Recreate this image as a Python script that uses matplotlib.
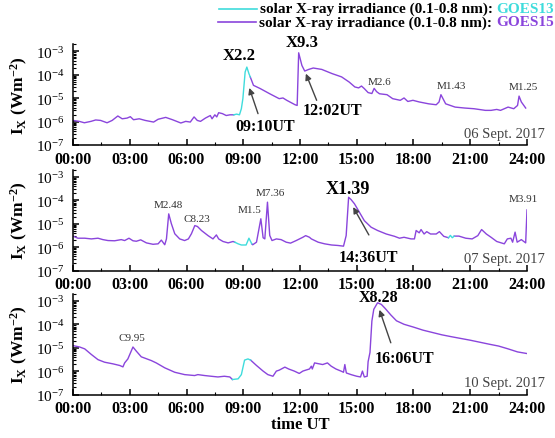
import numpy as np
import matplotlib
matplotlib.use("Agg")
import matplotlib.pyplot as plt
from matplotlib.ticker import FixedLocator, LogLocator, LogFormatterMathtext, NullFormatter
from matplotlib.lines import Line2D

plt.rcParams['font.family'] = ['Liberation Serif', 'DejaVu Serif']
plt.rcParams['mathtext.fontset'] = 'custom'
plt.rcParams['mathtext.rm'] = 'Liberation Serif:bold'
plt.rcParams['mathtext.bf'] = 'Liberation Serif:bold'
plt.rcParams['mathtext.it'] = 'Liberation Serif:italic:bold'
plt.rcParams['mathtext.default'] = 'bf'

nan = np.nan
# ---------------- data (hours UT, log10 irradiance W m^-2) ----------------
# 06 Sept 2017
d06_g15_h = [0.0, 0.33, 0.6, 0.95, 1.2, 1.46, 1.8, 2.07, 2.37, 2.6, 2.86, 3.03, 3.2, 3.5, 3.82,
             4.26, 4.5, 4.9, 5.26, 5.7, 5.96, 6.2, 6.4, 6.57, 6.74, 7.0, 7.26, 7.35, 7.5, 7.6,
             7.7, 7.9, 8.1, 8.3, 8.5, nan,
             9.37, 9.54, 9.9, 10.4, 10.9, 11.1, 11.3, 11.74, 11.85, 11.93, 12.1, 12.25, 12.46,
             12.7, 13.15, 13.7, 14.2, 14.6, 14.9, 15.1, 15.25, 15.4, 15.6, 15.8, 15.92, 16.05,
             16.2, 16.6, 16.9, 17.3, 17.5, 17.7, 17.97, 18.3, 18.8, 19.2, 19.35, 19.45, 19.7,
             20.2, 20.7, 21.2, 21.8, 22.1, 22.4, 22.6, 23.0, 23.3, 23.5, 23.58, 23.7, 23.93]
d06_g15_v = [-5.95, -5.99, -6.05, -5.99, -5.93, -5.95, -6.05, -5.95, -5.76, -5.88, -5.85, -5.79,
             -5.92, -5.88, -5.95, -6.02, -5.90, -5.82, -5.92, -6.06, -5.99, -6.02, -5.80, -5.95,
             -5.99, -5.85, -5.74, -5.88, -5.71, -5.80, -5.62, -5.66, -5.74, -5.71, -5.71, nan,
             -4.09, -4.45, -4.59, -4.81, -5.02, -4.99, -5.09, -5.28, -5.31, -3.06, -3.60, -3.84,
             -3.77, -3.71, -3.77, -3.95, -4.09, -4.31, -4.52, -4.56, -4.48, -4.59, -4.76, -4.80,
             -4.58, -4.72, -4.81, -4.85, -5.02, -5.09, -4.99, -5.14, -5.09, -5.16, -5.24, -5.28,
             -5.16, -4.85, -5.24, -5.38, -5.42, -5.45, -5.52, -5.52, -5.48, -5.52, -5.38, -5.45,
             -5.31, -4.91, -5.16, -5.42]
d06_g13_h = [8.5, 8.65, 8.8, 8.9, 8.98, 9.1, 9.19, 9.3, 9.37]
d06_g13_v = [-5.71, -5.68, -5.71, -5.45, -5.02, -3.88, -3.67, -3.95, -4.09]

# 07 Sept 2017
d07_g15_h = [0.0, 0.26, 0.62, 0.97, 1.32, 1.58, 1.85, 2.2, 2.55, 2.73, 2.96, 3.17, 3.35, 3.58,
             3.88, 4.23, 4.5, 4.67, 4.85, 4.94, 5.06, 5.2, 5.38, 5.64, 5.9, 6.1, 6.26, 6.44,
             6.58, 6.79, 7.14, 7.4, 7.58, 7.7, 7.93, 8.2, 8.46, 8.55, nan,
             9.45, 9.5, 9.7, 9.93, 10.05, 10.14, 10.28, 10.4, 10.52, 10.75, 11.0, 11.27, 11.5,
             11.8, 12.15, 12.3, 12.5, 12.6, 12.96, 13.3, 13.67, 14.0, 14.3, 14.44, 14.57, 14.7,
             14.88, 15.14, 15.4, 15.76, 16.1, 16.56, 17.0, 17.26, 17.5, 17.87, 18.05, 18.14,
             18.3, 18.4, 18.56, 18.7, 18.9, 19.2, 19.37, 19.6, 19.85, nan,
             20.15, 20.4, 20.76, 21.1, 21.4, 21.6, 21.85, 22.1, 22.4, 22.8, 22.96, 23.15, 23.24,
             23.37, 23.48, 23.7, 23.93, 24.0]
d07_g15_v = [-5.53, -5.62, -5.62, -5.65, -5.62, -5.68, -5.72, -5.73, -5.68, -5.72, -5.62, -5.73,
             -5.75, -5.69, -5.82, -5.88, -5.86, -5.70, -5.90, -5.65, -4.58, -5.00, -5.43, -5.65,
             -5.72, -5.65, -5.43, -5.08, -5.12, -5.29, -5.51, -5.65, -5.48, -5.65, -5.76, -5.82,
             -5.76, -5.79, nan,
             -5.86, -5.90, -5.79, -4.79, -5.60, -5.65, -4.08, -5.50, -5.72, -5.65, -5.68, -5.79,
             -5.83, -5.72, -5.58, -5.51, -5.58, -5.65, -5.79, -5.86, -5.91, -5.93, -5.96, -5.51,
             -3.87, -3.97, -4.15, -4.51, -4.87, -5.15, -5.29, -5.44, -5.54, -5.62, -5.58, -5.65,
             -5.65, -5.29, -5.39, -5.25, -5.44, -5.34, -5.44, -5.44, -5.34, -5.54, -5.60, nan,
             -5.53, -5.53, -5.62, -5.65, -5.51, -5.25, -5.44, -5.58, -5.76, -5.86, -5.65, -5.62,
             -5.79, -5.36, -5.79, -5.68, -5.82, -4.41]
d07_g13_h = [8.55, 8.73, 8.9, 9.15, 9.3, 9.45, nan, 19.85, 19.95, 20.05, 20.15]
d07_g13_v = [-5.79, -5.86, -5.91, -5.91, -5.62, -5.86, nan, -5.60, -5.50, -5.60, -5.53]

# 10 Sept 2017
d10_g15_h = [0.0, 0.35, 0.62, 0.97, 1.32, 1.67, 2.11, 2.47, 2.64, 2.73, 2.9, 3.17, 3.35, 3.61,
             4.14, 4.4, 4.85, 5.38, 5.9, 6.43, 6.6, 6.96, 7.3, 7.66, 8.0, 8.29, 8.43, nan,
             9.39, 9.7, 10.05, 10.3, 10.57, 10.75, 10.9, 11.2, 11.4, 11.7, 11.96, 12.15, 12.3,
             12.5, 12.6, 12.65, 12.77, 12.95, 13.2, 13.45, 13.65, 13.9, 14.17, 14.3, 14.37,
             14.45, 14.7, 14.87, 15.0, 15.2, 15.3, 15.4, 15.55, 15.6, 15.7, 15.8, 15.9, 16.1,
             16.3, 16.5, 16.8, 17.1, 17.5, 18.0, 18.5, 19.0, 19.5, 20.0, 21.0, 22.0, 22.5, 23.0,
             23.5, 24.0]
d10_g15_v = [-4.91, -4.97, -5.05, -5.29, -5.51, -5.62, -5.69, -5.76, -5.82, -5.65, -5.48, -4.97,
             -5.15, -5.39, -5.55, -5.65, -5.86, -6.05, -6.15, -6.19, -6.15, -6.19, -6.22, -6.25,
             -6.22, -6.25, -6.36, nan,
             -5.53, -5.76, -6.00, -6.15, -6.22, -6.00, -5.96, -5.83, -5.91, -6.00, -6.10, -6.00,
             -5.96, -5.91, -5.79, -5.91, -5.65, -5.68, -5.72, -5.65, -5.79, -5.91, -6.00, -6.05,
             -5.72, -6.08, -6.15, -6.19, -6.22, -6.25, -6.00, -6.25, -6.22, -5.60, -5.20, -3.86,
             -3.36, -3.08, -3.15, -3.32, -3.60, -3.85, -4.00, -4.12, -4.25, -4.35, -4.45, -4.53,
             -4.68, -4.85, -4.93, -5.05, -5.18, -5.25]
d10_g13_h = [8.43, 8.73, 8.9, 9.07, 9.25, 9.39]
d10_g13_v = [-6.36, -6.33, -6.15, -5.53, -5.48, -5.53]

hour_ticks = [0, 3, 6, 9, 12, 15, 18, 21, 24]
hour_labels = ['00:00', '03:00', '06:00', '09:00', '12:00', '15:00', '18:00', '21:00', '24:00']
dates = ['06 Sept. 2017', '07 Sept. 2017', '10 Sept. 2017']
legend_text = 'solar X-ray irradiance (0.1-0.8 nm): '
sat_names = ['GOES13', 'GOES15']

C13 = '#3fdcdc'
C15 = '#8a45dc'

W, H = 555, 439
fig = plt.figure(figsize=(W / 100, H / 100), dpi=100)

def rect(top_px, bottom_px):
    return [73 / W, 1 - bottom_px / H, 454 / W, (bottom_px - top_px) / H]

axes = [fig.add_axes(rect(45, 146)), fig.add_axes(rect(170.5, 271.5)), fig.add_axes(rect(294.5, 395.5))]
ytop = 10 ** (-7 + 101 / 23.4)

series = [(d06_g15_h, d06_g15_v, d06_g13_h, d06_g13_v),
          (d07_g15_h, d07_g15_v, d07_g13_h, d07_g13_v),
          (d10_g15_h, d10_g15_v, d10_g13_h, d10_g13_v)]

for ax, (h15, v15, h13, v13), date in zip(axes, series, dates):
    ax.plot(h15, 10 ** np.array(v15), color=C15, lw=1.0)
    ax.plot(h13, 10 ** np.array(v13), color=C13, lw=1.0)
    ax.set_yscale('log')
    ax.set_xlim(0, 24)
    ax.set_ylim(1e-7, ytop)
    for s in ['top', 'right']:
        ax.spines[s].set_visible(False)
    for s in ['left', 'bottom']:
        ax.spines[s].set_linewidth(1.1)
    ax.xaxis.set_major_locator(FixedLocator(hour_ticks))
    ax.xaxis.set_minor_locator(FixedLocator(np.arange(1.5, 24, 3)))
    ax.set_xticklabels(hour_labels, fontsize=11.5, fontweight='bold')
    ax.yaxis.set_major_locator(FixedLocator([1e-7, 1e-6, 1e-5, 1e-4, 1e-3]))
    ax.yaxis.set_major_formatter(LogFormatterMathtext())
    ax.yaxis.set_minor_locator(LogLocator(base=10, subs=np.arange(2, 10), numticks=20))
    ax.yaxis.set_minor_formatter(NullFormatter())
    ax.tick_params(axis='both', which='major', direction='in', length=4.5, width=1.1, color='black')
    ax.tick_params(axis='both', which='minor', direction='in', length=2.5, width=0.8)
    ax.tick_params(axis='x', which='major', pad=4)
    ax.tick_params(axis='y', which='major', labelsize=11, pad=6)
    ax.set_ylabel(r'$I_X$ (Wm$^{-2}$)', fontsize=12.5, fontweight='bold')
    ax.yaxis.set_label_coords(-0.095, 0.5)
    ax.text(22.8, 10 ** -6.5, date, fontsize=10.5, color='#444444', ha='center', va='center')

axes[2].set_xlabel('time UT', fontsize=12, fontweight='bold', labelpad=0)

def lab(ax, h, lv, txt, size=8, bold=False, color='#333333'):
    ax.text(h, 10 ** lv, txt, fontsize=size, fontweight='bold' if bold else 'normal',
            color=color, ha='center', va='center', clip_on=False)

def arrow(ax, h0, v0, h1, v1):
    ax.annotate('', xy=(h0, 10 ** v0), xytext=(h1, 10 ** v1),
                arrowprops=dict(arrowstyle='-|>', color='#444444', lw=1.0, mutation_scale=9,
                                shrinkA=0, shrinkB=0), annotation_clip=False)

a0, a1, a2 = axes
lab(a0, 8.77, -3.15, 'X2.2', 12, True, 'black')
lab(a0, 12.1, -2.59, 'X9.3', 12, True, 'black')
arrow(a0, 9.32, -4.56, 9.78, -5.66)
lab(a0, 10.15, -6.18, '09:10UT', 11.5, True, 'black')
arrow(a0, 12.31, -3.95, 12.88, -5.09)
lab(a0, 13.74, -5.52, '12:02UT', 11.5, True, 'black')
lab(a0, 16.23, -4.28, 'M2.6')
lab(a0, 20.02, -4.45, 'M1.43')
lab(a0, 23.78, -4.51, 'M1.25')

lab(a1, 5.04, -4.20, 'M2.48')
lab(a1, 6.54, -4.76, 'C8.23')
lab(a1, 9.36, -4.40, 'M1.5')
lab(a1, 10.41, -3.68, 'M7.36')
lab(a1, 14.55, -3.48, 'X1.39', 13, True, 'black')
arrow(a1, 14.81, -4.29, 15.64, -5.48)
lab(a1, 15.61, -6.41, '14:36UT', 11.5, True, 'black')
lab(a1, 23.8, -3.94, 'M3.91')

lab(a2, 3.10, -4.58, 'C9.95')
lab(a2, 16.17, -2.84, 'X8.28', 11.5, True, 'black')
arrow(a2, 16.2, -3.38, 16.8, -4.79)
lab(a2, 17.55, -5.44, '16:06UT', 11.5, True, 'black')

# legend (figure pixel layout)
renderer = fig.canvas.get_renderer()
for i, (name, col) in enumerate(zip(sat_names, [C13, C15])):
    ypx = 9.5 + i * 13.5
    yf = 1 - ypx / H
    t2 = fig.text(554 / W, yf, name, fontsize=11, fontweight='bold', color=col, ha='right', va='center')
    bb = t2.get_window_extent(renderer)
    t1 = fig.text(bb.x0 / W, yf, legend_text, fontsize=11, fontweight='bold', color='black',
                  ha='right', va='center')
    bb1 = t1.get_window_extent(renderer)
    x_end = bb1.x0 - 3
    fig.add_artist(Line2D([(x_end - 38) / W, x_end / W], [yf, yf], color=col, lw=1.2))

fig.savefig('out.png', dpi=100)
